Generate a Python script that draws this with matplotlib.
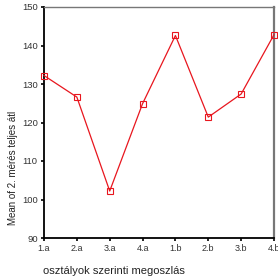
import numpy as np
import matplotlib
matplotlib.use('Agg')
import matplotlib.pyplot as plt

groups = ['1.a', '2.a', '3.a', '4.a', '1.b', '2.b', '3.b', '4.b']
means = [132.2, 126.6, 102.2, 124.9, 142.6, 121.4, 127.4, 142.8]
yticks = [90, 100, 110, 120, 130, 140, 150]

plt.rcParams['font.family'] = 'Liberation Sans'

fig = plt.figure(figsize=(2.78, 2.80), dpi=100)
ax = fig.add_axes([44/278, 42/280, 230/278, 231/280])
x = np.arange(len(groups))
ax.plot(x, means, color='#e8161e', lw=0.9, marker='s', markersize=4.2,
        markerfacecolor='none', markeredgecolor='#e8161e', markeredgewidth=0.8,
        clip_on=False, zorder=3)
ax.set_xlim(0, len(groups) - 1)
ax.set_ylim(90, 150)
ax.set_xticks(x)
ax.set_xticklabels(groups, fontsize=6.5, color='#333333')
ax.set_yticks(yticks)
ax.set_yticklabels([str(v) for v in yticks], fontsize=6.8, color='#333333')
ax.tick_params(axis='both', direction='out', length=2.5, width=1.2, pad=2)
for s in ['left', 'bottom']:
    ax.spines[s].set_color('black')
    ax.spines[s].set_linewidth(1.3)
ax.spines['top'].set_color('#777777')
ax.spines['top'].set_linewidth(1.0)
ax.spines['right'].set_color('#777777')
ax.spines['right'].set_linewidth(1.6)
# y label sits low, like the original export
fig.text(13/278, 1 - 168/280, 'Mean of 2. mérés teljes átl', fontsize=7,
         color='#222222', rotation=90, ha='center', va='center')
fig.text(43/278, 1 - 271/280, 'osztályok szerinti megoszlás', fontsize=8,
         color='#222222', ha='left', va='center')
fig.savefig('out.png', dpi=100)
